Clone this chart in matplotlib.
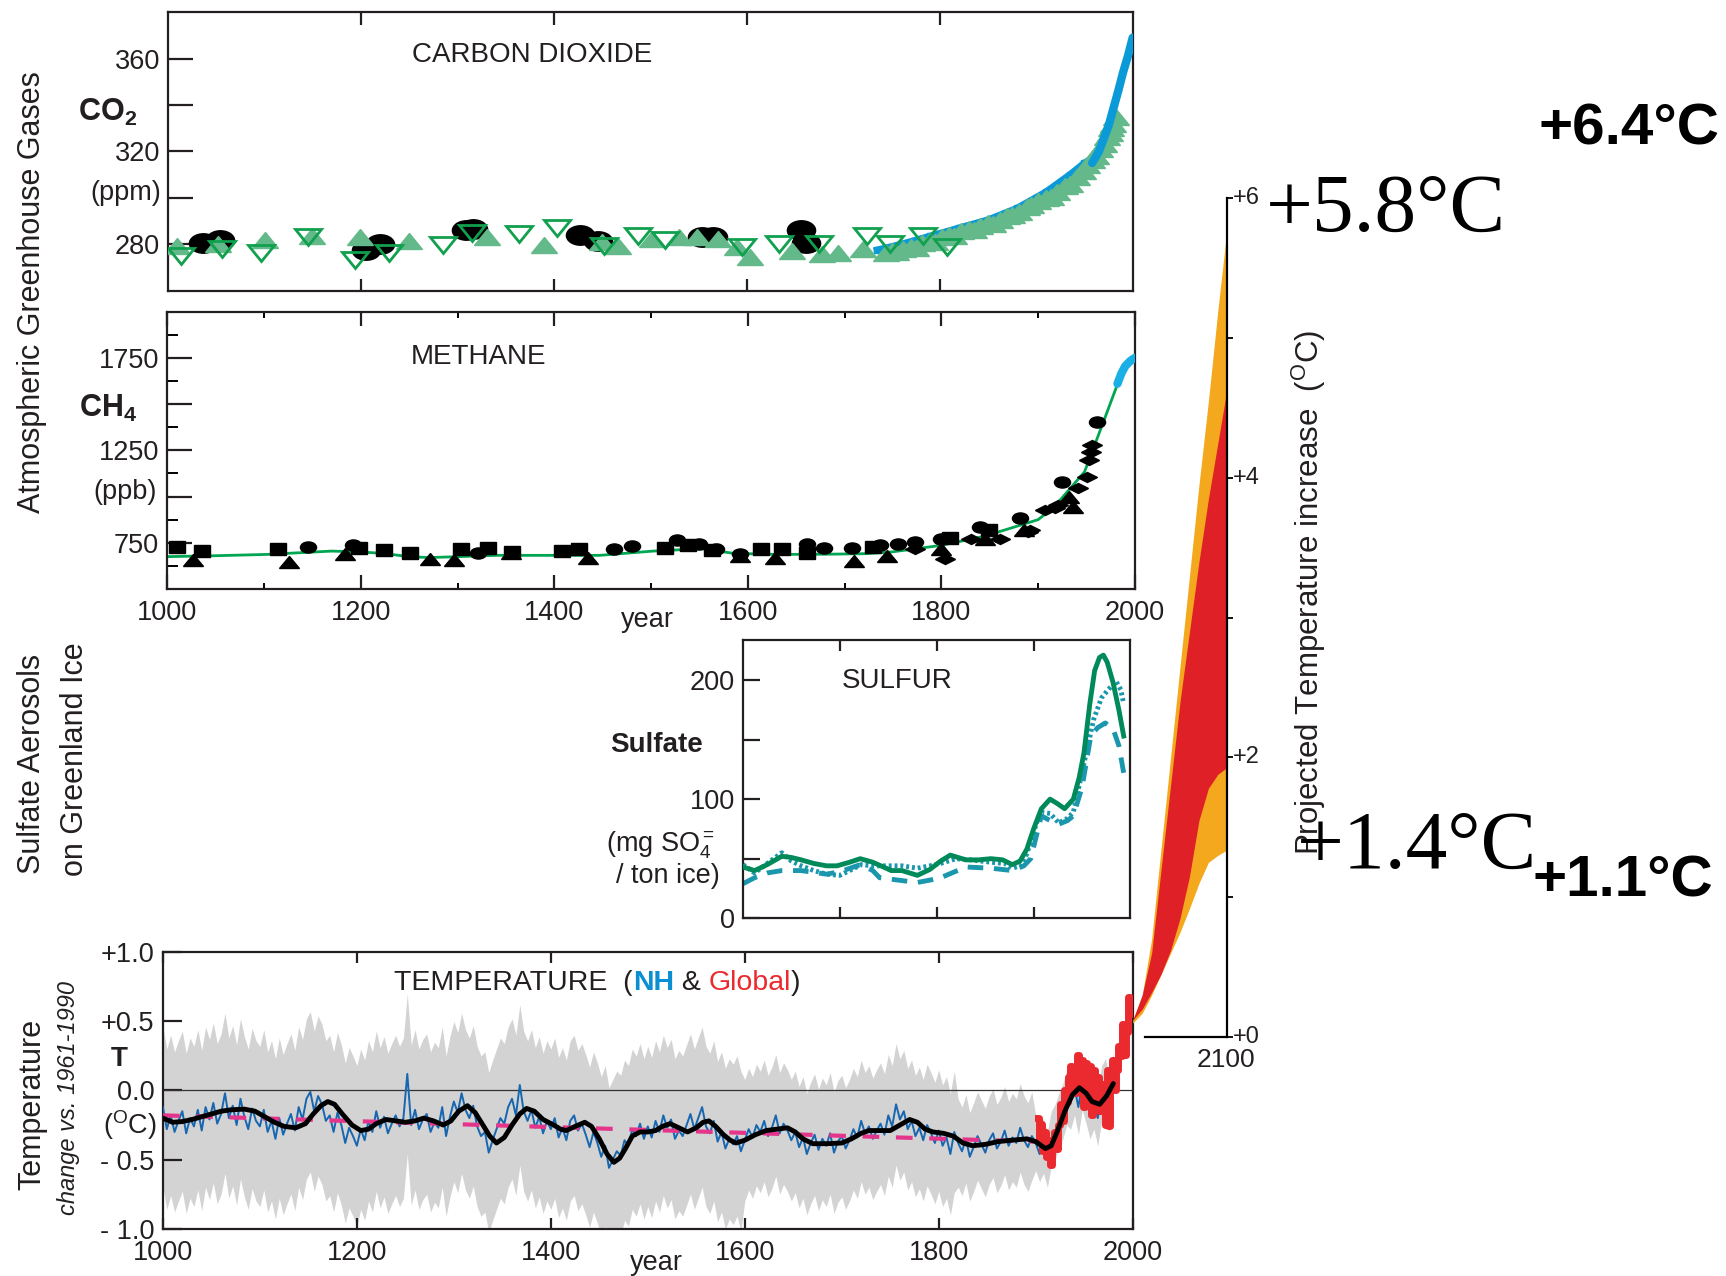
import numpy as np
import matplotlib
matplotlib.use('Agg')
import matplotlib.pyplot as plt
from matplotlib.markers import MarkerStyle
from matplotlib.transforms import Affine2D

# ---------------- DATA ----------------
# CO2 (ppm)
co2_ell_years = [1036, 1054, 1205, 1219, 1309, 1316, 1427, 1445, 1553, 1565, 1656, 1661]
co2_ell_vals = [280.5, 282, 277.5, 280, 286, 286.5, 284, 281.5, 283, 283, 286, 280.5]
co2_tri_years = [1009, 1051, 1100, 1149, 1199, 1249, 1330, 1389, 1450, 1466, 1501, 1529, 1548, 1570,
                 1590, 1603, 1647, 1678, 1694, 1720, 1744,
                 1750, 1755, 1762, 1770, 1775, 1782, 1790, 1795, 1802, 1810, 1815, 1822, 1830, 1835,
                 1842, 1850, 1855, 1862, 1870, 1875, 1882, 1890, 1895, 1902, 1910, 1915, 1922, 1930,
                 1935, 1942, 1948, 1953, 1958, 1962, 1966, 1970, 1973, 1976, 1978, 1980, 1983]
co2_tri_vals = [279.3, 280, 282, 283.6, 283.3, 281.4, 283.3, 279.6, 281, 279.3, 282.4, 283.1, 283, 282.4,
                278.6, 274.3, 277, 275.7, 276.4, 278, 276.4,
                277, 276.5, 278, 279, 278.5, 280.5, 281.5, 281, 283, 284, 283.5, 285.5, 286.5, 286,
                288, 289, 288.5, 290.5, 292, 292.5, 294, 296, 297, 298.5, 300, 300.5, 302.5, 305,
                306, 309, 311.5, 314, 316.5, 318, 321, 323, 326, 328, 330, 332, 335]
co2_open_years = [1013, 1056, 1096, 1145, 1194, 1229, 1285, 1315, 1364, 1403, 1452, 1487, 1515,
                  1595, 1633, 1675, 1724, 1748, 1783, 1807]
co2_open_vals = [275, 278, 276.4, 282.9, 273, 276.4, 279.6, 285, 284.3, 287, 279.3, 283.6, 282,
                 279, 280, 280, 283.6, 280, 283.6, 279]
co2_siple_years = [1735, 1760, 1790, 1820, 1850, 1880, 1910, 1935, 1950, 1958]
co2_siple_vals = [277.5, 280, 283.5, 287, 290.5, 295.5, 302.5, 310, 315, 317]
co2_ml_years = [1958, 1965, 1970, 1975, 1980, 1985, 1990, 1995, 2000]
co2_ml_vals = [315, 320, 325.5, 331, 338.5, 346, 354, 361, 369]

# CH4 (ppb)
ch4_line_years = [1000, 1050, 1103, 1140, 1170, 1200, 1222, 1250, 1270, 1301, 1340, 1400, 1447, 1502,
                  1552, 1585, 1628, 1680, 1722, 1748, 1800, 1845, 1900, 1917, 1948, 1968, 1982]
ch4_line_vals = [675, 680, 687, 697, 705, 700, 693, 675, 670, 675, 682, 682, 682, 705,
                 718, 693, 687, 688, 691, 700, 736, 786, 875, 946, 1134, 1411, 1607]
ch4_recent_years = [1982, 1986, 1990, 1995, 2000]
ch4_recent_vals = [1610, 1665, 1705, 1732, 1750]
ch4_sq_years = [1010, 1036, 1114, 1198, 1224, 1251, 1304, 1331, 1356, 1408, 1425, 1514, 1538, 1563,
                1614, 1635, 1661, 1729, 1809, 1849]
ch4_sq_vals = [729, 705, 714, 723, 711, 693, 718, 723, 700, 705, 718, 723, 736, 711,
               718, 718, 693, 729, 777, 821]
ch4_tri_years = [1027, 1126, 1184, 1271, 1296, 1355, 1435, 1592, 1628, 1710, 1744, 1800, 1845, 1885,
                 1932, 1936]
ch4_tri_vals = [657, 646, 687, 664, 655, 693, 670, 679, 670, 652, 679, 718, 771, 821, 1000, 946]
ch4_ell_years = [1145, 1192, 1321, 1462, 1480, 1527, 1549, 1567, 1592, 1661, 1679, 1708, 1737, 1755,
                 1773, 1800, 1840, 1881, 1925, 1961]
ch4_ell_vals = [727, 736, 693, 714, 732, 764, 741, 718, 687, 741, 723, 723, 736, 741,
                754, 771, 834, 884, 1080, 1402]
ch4_dia_years = [1773, 1804, 1831, 1861, 1890, 1892, 1907, 1917, 1921, 1941, 1950, 1953, 1955, 1956]
ch4_dia_vals = [714, 664, 768, 768, 807, 821, 925, 937, 955, 1045, 1107, 1196, 1241, 1277]

# Sulfate (mg SO4 / ton ice)
sulf_a_years = [1600, 1612, 1625, 1640, 1650, 1660, 1673, 1686, 1697, 1710, 1721, 1734, 1745, 1753,
                1764, 1780, 1793, 1804, 1814, 1830, 1843, 1856, 1868, 1878, 1886, 1893, 1900, 1908,
                1917, 1925, 1932, 1941, 1947, 1952, 1958, 1963, 1968, 1972, 1976, 1982, 1988, 1993]
sulf_a_vals = [43, 40, 45, 52, 51, 49, 46, 44, 44, 47, 50, 47, 43, 40,
               40, 36, 41, 48, 53, 49, 49, 50, 49, 45, 48, 58, 75, 92,
               100, 96, 92, 100, 118, 139, 180, 208, 219, 221, 215, 198, 175, 153]
sulf_b_years = [1600, 1612, 1625, 1640, 1650, 1660, 1673, 1686, 1700, 1710, 1722, 1734, 1750, 1764,
                1780, 1793, 1804, 1820, 1835, 1856, 1870, 1878, 1886, 1893, 1903, 1908, 1917, 1926,
                1935, 1941, 1952, 1962, 1970, 1977, 1985, 1990, 1993]
sulf_b_vals = [45, 38, 46, 55, 48, 44, 40, 37, 36, 40, 45, 44, 44, 44,
               42, 44, 46, 50, 49, 47, 46, 42, 44, 54, 80, 89, 88, 80,
               84, 89, 130, 167, 185, 192, 199, 192, 180]
sulf_c_years = [1600, 1612, 1625, 1640, 1660, 1686, 1700, 1721, 1734, 1741, 1760, 1780, 1793, 1804,
                1830, 1856, 1878, 1890, 1897, 1908, 1917, 1926, 1935, 1941, 1950, 1959, 1966, 1974,
                1982, 1988, 1993]
sulf_c_vals = [29, 34, 38, 40, 40, 37, 39, 45, 40, 34, 32, 30, 32, 34,
               43, 42, 40, 44, 50, 86, 82, 79, 82, 86, 110, 153, 160, 164,
               159, 145, 122]

# Temperature (deg C vs 1961-1990)
nh_start, nh_step = 1000, 4
nh_vals = [
    -0.12, -0.28, -0.18, -0.30, -0.22, -0.15, -0.31, -0.20, -0.26, -0.14, -0.29, -0.12, -0.21, -0.09, -0.24, -0.17, -0.02, -0.20, -0.11, -0.25, -0.06, -0.19, -0.28, -0.13, -0.22,
    -0.26, -0.14, -0.30, -0.22, -0.35, -0.20, -0.32, -0.24, -0.17, -0.29, -0.12, -0.21, -0.06, -0.01, -0.15, -0.04, -0.10, -0.22, -0.18, -0.30, -0.16, -0.25, -0.38, -0.27, -0.33,
    -0.40, -0.28, -0.36, -0.22, -0.30, -0.15, -0.27, -0.19, -0.31, -0.24, -0.18, -0.26, -0.20, 0.12, -0.25, -0.14, -0.28, -0.21, -0.17, -0.30, -0.23, -0.27, -0.12, -0.33, -0.19,
    -0.08, -0.16, -0.02, -0.14, -0.20, -0.11, -0.26, -0.33, -0.30, -0.45, -0.36, -0.28, -0.20, -0.24, -0.12, -0.06, -0.18, 0.04, -0.15, -0.22, -0.14, -0.27, -0.19, -0.31, -0.22,
    -0.28, -0.20, -0.34, -0.27, -0.36, -0.22, -0.18, -0.29, -0.24, -0.32, -0.41, -0.30, -0.38, -0.48, -0.40, -0.56, -0.50, -0.44, -0.47, -0.36, -0.40, -0.28, -0.33, -0.24, -0.35,
    -0.26, -0.34, -0.22, -0.30, -0.18, -0.27, -0.21, -0.35, -0.29, -0.33, -0.25, -0.17, -0.28, -0.20, -0.12, -0.26, -0.31, -0.22, -0.37, -0.30, -0.42, -0.35, -0.39, -0.33, -0.44,
    -0.36, -0.28, -0.34, -0.25, -0.30, -0.22, -0.33, -0.27, -0.18, -0.31, -0.24, -0.29, -0.36, -0.30, -0.41, -0.34, -0.46, -0.38, -0.32, -0.43, -0.35, -0.40, -0.31, -0.45, -0.37,
    -0.33, -0.42, -0.36, -0.28, -0.34, -0.22, -0.31, -0.26, -0.35, -0.29, -0.24, -0.32, -0.18, -0.26, -0.10, -0.21, -0.15, -0.28, -0.22, -0.33, -0.27, -0.36, -0.25, -0.31, -0.38,
    -0.29, -0.40, -0.34, -0.46, -0.30, -0.38, -0.44, -0.35, -0.48, -0.41, -0.33, -0.39, -0.45, -0.36, -0.31, -0.42, -0.37, -0.29, -0.40, -0.34, -0.38, -0.27, -0.36, -0.41, -0.33,
    -0.38, -0.46, -0.40, -0.50, -0.35, -0.30, -0.22, -0.15, -0.05, -0.08, 0.02, -0.12, 0.06, -0.04, -0.15, -0.08, -0.20, -0.02, 0.03, -0.10, 0.08]
unc_break_years = [1000, 1600, 1820, 1900]
unc_halfwidth = [0.58, 0.44, 0.32, 0.20]
smooth_years = [1000, 1010, 1020, 1030, 1040, 1050, 1060, 1070, 1084, 1095, 1105, 1115, 1125, 1137, 1147,
                1155, 1163, 1170, 1177, 1185, 1195, 1204, 1212, 1220, 1230, 1240, 1250, 1260, 1269, 1279,
                1289, 1297, 1305, 1314, 1322, 1330, 1337, 1344, 1352, 1360, 1368, 1375, 1383, 1392, 1403,
                1410, 1416, 1425, 1435, 1442, 1450, 1458, 1465, 1471, 1477, 1484, 1492, 1500, 1508, 1515,
                1523, 1532, 1541, 1550, 1557, 1563, 1570, 1578, 1585, 1591, 1600, 1611, 1622, 1633, 1644,
                1652, 1660, 1670, 1685, 1700, 1710, 1720, 1728, 1738, 1750, 1760, 1770, 1778, 1786, 1794,
                1805, 1815, 1825, 1835, 1848, 1861, 1875, 1891, 1900, 1910, 1916, 1922, 1930, 1938, 1945,
                1952, 1958, 1966, 1973, 1980]
smooth_vals = [-0.20, -0.23, -0.225, -0.21, -0.19, -0.17, -0.15, -0.14, -0.135, -0.15, -0.19, -0.23, -0.26, -0.27, -0.24,
               -0.17, -0.11, -0.08, -0.10, -0.17, -0.25, -0.29, -0.28, -0.24, -0.21, -0.22, -0.23, -0.22, -0.20, -0.22,
               -0.25, -0.22, -0.15, -0.11, -0.16, -0.25, -0.33, -0.38, -0.34, -0.25, -0.17, -0.13, -0.15, -0.21, -0.25,
               -0.28, -0.29, -0.26, -0.23, -0.26, -0.35, -0.46, -0.52, -0.49, -0.42, -0.33, -0.30, -0.30, -0.29, -0.26,
               -0.24, -0.27, -0.30, -0.27, -0.23, -0.22, -0.26, -0.32, -0.36, -0.38, -0.36, -0.32, -0.29, -0.28, -0.27,
               -0.30, -0.35, -0.385, -0.385, -0.38, -0.35, -0.31, -0.29, -0.29, -0.29, -0.25, -0.21, -0.23, -0.28, -0.30,
               -0.31, -0.33, -0.38, -0.40, -0.39, -0.37, -0.36, -0.35, -0.37, -0.42, -0.40, -0.30, -0.15, -0.03, 0.02,
               -0.02, -0.08, -0.10, -0.04, 0.05]
trend_years = [1000, 1900]
trend_vals = [-0.18, -0.37]
glob_years = [1902, 1904, 1906, 1908, 1910, 1912, 1914, 1916, 1918, 1920, 1922, 1924, 1926, 1928, 1930,
              1932, 1934, 1936, 1938, 1940, 1942, 1944, 1946, 1948, 1950, 1952, 1954, 1956, 1958, 1960,
              1962, 1964, 1966, 1968, 1970, 1972, 1974, 1976, 1978, 1980, 1982, 1984, 1986, 1988, 1990,
              1992, 1994, 1996, 1998]
glob_vals = [-0.20, -0.35, -0.24, -0.44, -0.30, -0.48, -0.36, -0.54, -0.40, -0.30, -0.42, -0.25, -0.10, -0.22, 0.00,
             -0.08, 0.10, 0.18, 0.02, 0.12, -0.02, 0.26, 0.08, 0.22, -0.12, 0.20, -0.02, 0.18, -0.18, 0.15,
             -0.05, 0.10, -0.15, 0.05, -0.10, -0.25, 0.15, -0.26, 0.05, 0.22, 0.00, 0.15, 0.32, 0.25, 0.48,
             0.26, 0.42, 0.68, 0.55]

# Projections 2000-2100 (deg C increase)
proj_years = [2000, 2010, 2020, 2030, 2040, 2050, 2060, 2070, 2080, 2090, 2100]
outer_hi = [0.12, 0.30, 0.70, 1.35, 2.00, 2.65, 3.30, 3.95, 4.55, 5.20, 5.80]
outer_lo = [0.10, 0.17, 0.30, 0.45, 0.60, 0.75, 0.92, 1.10, 1.25, 1.30, 1.34]
inner_hi = [0.12, 0.30, 0.60, 1.20, 1.80, 2.40, 2.90, 3.40, 3.85, 4.25, 4.65]
inner_lo = [0.12, 0.20, 0.32, 0.45, 0.62, 0.85, 1.15, 1.55, 1.78, 1.88, 1.93]
proj_tick_vals = [0, 2, 4, 6]
proj_tick_labels = ['+0', '+2', '+4', '+6']

# ---------------- STYLE ----------------
plt.rcParams['font.family'] = ['Liberation Sans', 'DejaVu Sans']
plt.rcParams['mathtext.fontset'] = 'custom'
plt.rcParams['mathtext.rm'] = 'Liberation Sans'
plt.rcParams['mathtext.it'] = 'Liberation Sans:italic'
plt.rcParams['mathtext.bf'] = 'Liberation Sans:bold'

TXT = '#231f20'
FS = 19.5
fig = plt.figure(figsize=(17.26, 12.76), dpi=100)


def fx(x):
    return x / 1568.0


def fy(y):
    return 1 - y / 1159.0


def rect(l, t, r, b):
    return [fx(l), fy(b), fx(r) - fx(l), fy(t) - fy(b)]


def style_ax(ax):
    for s in ax.spines.values():
        s.set_linewidth(1.6)
        s.set_color(TXT)
    ax.tick_params(colors=TXT, width=1.6, labelsize=FS, direction='in')


ell = MarkerStyle('o', transform=Affine2D().scale(1.45, 1.0))
tri = MarkerStyle('^', transform=Affine2D().scale(1.25, 0.8))
tri_dn = MarkerStyle('v', transform=Affine2D().scale(1.25, 0.8))
dia = MarkerStyle('D', transform=Affine2D().scale(1.5, 0.8))
sq = MarkerStyle('s', transform=Affine2D().scale(1.3, 0.9))

# ---------------- CO2 ----------------
ax1 = fig.add_axes(rect(153, 11, 1029, 264))
style_ax(ax1)
ax1.set_xlim(1000, 2000)
ax1.set_ylim(260, 380)
ax1.set_xticks([1200, 1400, 1600, 1800])
ax1.set_xticklabels([])
ax1.tick_params(axis='x', top=True, bottom=True, length=9)
ax1.set_yticks([280, 300, 320, 340, 360])
ax1.set_yticklabels(['280', '', '320', '', '360'])
ax1.tick_params(axis='y', length=18, pad=6)
ax1.plot(co2_ell_years, co2_ell_vals, ls='none', marker=ell, ms=14, color='black', zorder=3)
ax1.plot(co2_siple_years, co2_siple_vals, color='#0b9ad8', lw=5, marker='s', ms=5, zorder=3)
ax1.plot(co2_tri_years, co2_tri_vals, ls='none', marker=tri, ms=15, color='#63b98a', zorder=4)
ax1.plot(co2_open_years, co2_open_vals, ls='none', marker=tri_dn, ms=15, mfc='none',
         mec='#10a04e', mew=2, zorder=5)
ax1.plot(co2_ml_years, co2_ml_vals, color='#0b9ad8', lw=6, solid_capstyle='round', zorder=6)

# ---------------- CH4 ----------------
ax2 = fig.add_axes(rect(152, 283, 1031, 535))
style_ax(ax2)
ax2.set_xlim(1000, 2000)
ax2.set_ylim(500, 2000)
ax2.set_xticks([1000, 1200, 1400, 1600, 1800, 2000])
ax2.set_xticks([1100, 1300, 1500, 1700, 1900], minor=True)
ax2.tick_params(axis='x', which='major', top=True, bottom=True, length=10, pad=8)
ax2.tick_params(axis='x', which='minor', top=True, bottom=True, length=4, width=1.4, direction='in')
ax2.set_yticks([750, 1000, 1250, 1500, 1750])
ax2.set_yticklabels(['750', '', '1250', '', '1750'])
ax2.set_yticks([625, 875, 1125, 1375, 1625, 1875], minor=True)
ax2.tick_params(axis='y', which='major', length=18, pad=6)
ax2.tick_params(axis='y', which='minor', length=8, width=1.4, direction='in')
ax2.plot(ch4_line_years, ch4_line_vals, color='#00a651', lw=2, zorder=2)
ax2.plot(ch4_recent_years, ch4_recent_vals, color='#1ab0e6', lw=6, solid_capstyle='round', zorder=5)
ax2.plot(ch4_sq_years, ch4_sq_vals, ls='none', marker=sq, ms=9, color='black', zorder=3)
ax2.plot(ch4_tri_years, ch4_tri_vals, ls='none', marker=tri, ms=11, color='black', zorder=3)
ax2.plot(ch4_ell_years, ch4_ell_vals, ls='none', marker=ell, ms=8, color='black', zorder=3)
ax2.plot(ch4_dia_years, ch4_dia_vals, ls='none', marker=dia, ms=7, color='black', zorder=3)

# ---------------- SULFUR ----------------
ax3 = fig.add_axes(rect(675, 581, 1027, 834))
style_ax(ax3)
ax3.set_xlim(1600, 2000)
ax3.set_ylim(0, 234)
ax3.set_xticks([1700, 1800, 1900])
ax3.set_xticklabels([])
ax3.tick_params(axis='x', top=True, bottom=True, length=8)
ax3.set_yticks([0, 50, 100, 150, 200])
ax3.set_yticklabels(['0', '', '100', '', '200'])
ax3.tick_params(axis='y', length=12, pad=6)
ax3.plot(sulf_c_years, sulf_c_vals, color='#1a97ad', lw=3.5, dashes=(3.2, 2.2), zorder=2)
ax3.plot(sulf_b_years, sulf_b_vals, color='#1a97ad', lw=3.5, dashes=(0.6, 0.6), zorder=3)
ax3.plot(sulf_a_years, sulf_a_vals, color='#008a5a', lw=3.5, zorder=4)

# ---------------- TEMPERATURE ----------------
ax4 = fig.add_axes(rect(148, 865, 1029, 1116))
style_ax(ax4)
ax4.set_xlim(1000, 2000)
ax4.set_ylim(-1, 1)
nh_years = nh_start + nh_step * np.arange(len(nh_vals))
nh = np.array(nh_vals)
hw = np.array(unc_halfwidth)[np.searchsorted(unc_break_years, nh_years, side='right') - 1]
ax4.fill_between(nh_years, nh - hw, nh + hw, color='#d3d3d3', lw=0, zorder=1)
ax4.axhline(0, color='#333333', lw=0.9, zorder=2)
ax4.plot(nh_years, nh, color='#1766b0', lw=1.4, zorder=3)
ax4.plot(trend_years, trend_vals, color='#e4358b', lw=3, dashes=(4, 4), zorder=4)
ax4.plot(glob_years, glob_vals, color='#ea2a2f', lw=5, drawstyle='steps-mid', zorder=5)
ax4.plot(smooth_years, smooth_vals, color='black', lw=3.5, zorder=6, solid_capstyle='round')
ax4.set_xticks([1000, 1200, 1400, 1600, 1800, 2000])
ax4.tick_params(axis='x', top=True, bottom=True, length=8, pad=8)
ax4.set_yticks([-1, -0.5, 0, 0.5, 1])
ax4.set_yticklabels(['- 1.0', '- 0.5', '0.0', '+0.5', '+1.0'])
ax4.tick_params(axis='y', length=14, pad=6)

# ---------------- PROJECTION ----------------
ax5 = fig.add_axes(rect(1029, 180, 1115, 942))
ax5.patch.set_alpha(0)
ax5.set_xlim(2000, 2100)
ax5.set_ylim(0, 6)
for s in ['left', 'top']:
    ax5.spines[s].set_visible(False)
ax5.spines['right'].set_linewidth(1.6)
ax5.spines['bottom'].set_linewidth(1.6)
ax5.spines['bottom'].set_bounds(2013, 2100)
ax5.fill_between(proj_years, outer_lo, outer_hi, color='#f4a81d', lw=0)
ax5.fill_between(proj_years, inner_lo, inner_hi, color='#e02027', lw=0)
ax5.yaxis.tick_right()
ax5.set_yticks([1, 3, 5], minor=True)
ax5.set_yticks(proj_tick_vals)
ax5.set_yticklabels([])
ax5.tick_params(axis='y', which='both', direction='out', length=4, width=1.3)
for v, lab in zip(proj_tick_vals, proj_tick_labels):
    ax5.annotate(lab, xy=(1.0, v), xycoords=('axes fraction', 'data'), xytext=(4, 0),
                 textcoords='offset points', ha='left', va='center', fontsize=17, color=TXT,
                 annotation_clip=False)
ax5.set_xticks([])
ax5.annotate('2100', xy=(1.0, 0), xycoords='axes fraction', xytext=(-1, -8),
             textcoords='offset points', ha='center', va='top', fontsize=19, color=TXT,
             annotation_clip=False)

# ---------------- TEXT ----------------
fig.text(fx(483), fy(50), 'CARBON DIOXIDE', fontsize=20, ha='center', va='center', color=TXT)
fig.text(fx(98), fy(102), r'$\mathbf{CO_2}$', fontsize=22, ha='center', va='center', color=TXT)
fig.text(fx(114), fy(175), '(ppm)', fontsize=FS, ha='center', va='center', color=TXT)
fig.text(fx(435), fy(324), 'METHANE', fontsize=20, ha='center', va='center', color=TXT)
fig.text(fx(98), fy(371), r'$\mathbf{CH_4}$', fontsize=22, ha='center', va='center', color=TXT)
fig.text(fx(114), fy(447), '(ppb)', fontsize=FS, ha='center', va='center', color=TXT)
fig.text(fx(588), fy(563), 'year', fontsize=FS, ha='center', va='center', color=TXT)
fig.text(fx(29), fy(265), 'Atmospheric Greenhouse Gases', fontsize=22, rotation=90,
         ha='center', va='center', color=TXT)

fig.text(fx(815), fy(619), 'SULFUR', fontsize=20, ha='center', va='center', color=TXT)
fig.text(fx(596), fy(677), 'Sulfate', fontsize=20, fontweight='bold', ha='center', va='center', color=TXT)
fig.text(fx(600), fy(768), r'(mg SO$_4^{=}$', fontsize=FS, ha='center', va='center', color=TXT)
fig.text(fx(607), fy(796), '/ ton ice)', fontsize=FS, ha='center', va='center', color=TXT)
fig.text(fx(29), fy(694), 'Sulfate Aerosols', fontsize=22, rotation=90, ha='center', va='center', color=TXT)
fig.text(fx(68), fy(690), 'on Greenland Ice', fontsize=22, rotation=90, ha='center', va='center', color=TXT)

t1 = fig.text(fx(358), fy(893), 'TEMPERATURE  (', fontsize=20.5, ha='left', va='center', color=TXT)
t2 = fig.text(0, 0, 'NH', fontsize=20.5, fontweight='bold', color='#0a8fd2')
t3 = fig.text(0, 0, ' & ', fontsize=20.5, color=TXT)
t4 = fig.text(0, 0, 'Global', fontsize=20.5, color='#ea2a2f')
t5 = fig.text(0, 0, ')', fontsize=20.5, color=TXT)
fig.canvas.draw()
r = fig.canvas.get_renderer()
prev = t1
for t in [t2, t3, t4, t5]:
    bb = prev.get_window_extent(r)
    t.set_position((bb.x1 / fig.bbox.width, bb.y0 / fig.bbox.height))
    t.set_va('bottom')
    t.set_ha('left')
    prev = t

fig.text(fx(108), fy(962), 'T', fontsize=20, fontweight='bold', ha='center', va='center', color=TXT)
fig.text(fx(118), fy(1022), r'($^{\mathrm{O}}$C)', fontsize=FS, ha='center', va='center', color=TXT)
fig.text(fx(29), fy(1003), 'Temperature', fontsize=22, rotation=90, ha='center', va='center', color=TXT)
fig.text(fx(62), fy(997), 'change vs. 1961-1990', fontsize=17, style='italic', rotation=90,
         ha='center', va='center', color=TXT)
fig.text(fx(596), fy(1147), 'year', fontsize=FS, ha='center', va='center', color=TXT)

fig.text(fx(1189), fy(538), r'Projected Temperature increase  ($^{\mathrm{O}}$C)', fontsize=22.5,
         rotation=90, ha='center', va='center', color=TXT)
fig.text(fx(1480), fy(118), '+6.4°C', fontsize=42, fontweight='bold', ha='center', va='center', color='black')
fig.text(fx(1259), fy(192), '+5.8°C', fontsize=60, family='Liberation Serif', ha='center', va='center',
         color='black')
fig.text(fx(1287), fy(770), '+1.4°C', fontsize=60, family='Liberation Serif', ha='center', va='center',
         color='black')
fig.text(fx(1474), fy(801), '+1.1°C', fontsize=42, fontweight='bold', ha='center', va='center', color='black')

fig.savefig('out.png', dpi=100, facecolor='white')
